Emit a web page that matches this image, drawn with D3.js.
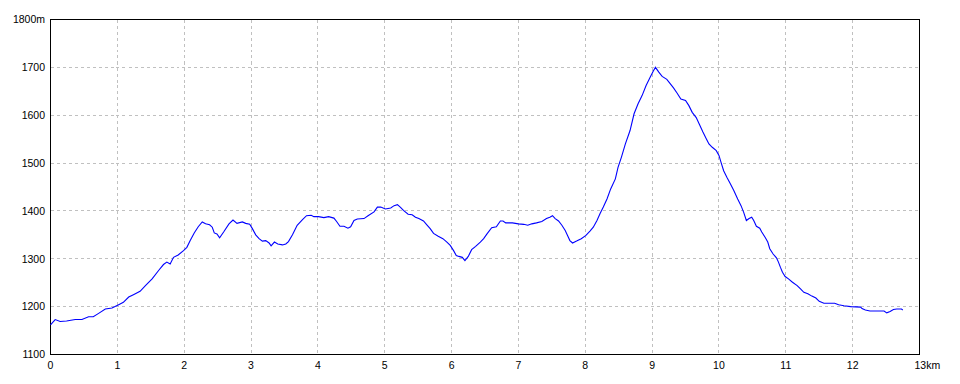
<!DOCTYPE html>
<html>
<head>
<meta charset="utf-8">
<script src="https://cdn.jsdelivr.net/npm/d3@7"></script>
<style>
  html, body { margin: 0; padding: 0; background: #ffffff; }
  svg { display: block; }
  text { font-family: "Liberation Sans", Arial, sans-serif; font-size: 10.5px; fill: #000; }
</style>
</head>
<body>
<svg id="chart" width="960" height="384"></svg>
<script>
// Distance along the route (km)
const distanceKm = [
  0.00, 0.07, 0.145, 0.24, 0.37, 0.47, 0.57, 0.64, 0.72, 0.82, 0.92, 1.02, 1.09, 1.17, 1.24, 1.34,
  1.42, 1.52, 1.62, 1.69, 1.74, 1.79, 1.84, 1.91, 1.99, 2.04, 2.09, 2.15, 2.21, 2.27, 2.32, 2.38,
  2.42, 2.45, 2.49, 2.53, 2.59, 2.67, 2.73, 2.79, 2.87, 2.92, 2.98, 3.02, 3.07, 3.12, 3.17, 3.22,
  3.27, 3.30, 3.35, 3.40, 3.47, 3.52, 3.56, 3.62, 3.69, 3.77, 3.83, 3.90, 3.94, 4.01, 4.09, 4.16,
  4.24, 4.28, 4.33, 4.39, 4.45, 4.49, 4.54, 4.59, 4.69, 4.75, 4.84, 4.89, 4.94, 5.01, 5.09, 5.14,
  5.19, 5.24, 5.28, 5.35, 5.41, 5.46, 5.51, 5.58, 5.63, 5.68, 5.73, 5.80, 5.87, 5.93, 5.98, 6.03,
  6.07, 6.11, 6.16, 6.20, 6.25, 6.30, 6.36, 6.43, 6.48, 6.53, 6.60, 6.67, 6.73, 6.77, 6.81, 6.91,
  7.00, 7.08, 7.14, 7.20, 7.27, 7.35, 7.42, 7.47, 7.51, 7.55, 7.60, 7.65, 7.70, 7.74, 7.77, 7.81,
  7.87, 7.94, 8.01, 8.07, 8.12, 8.175, 8.22, 8.27, 8.325, 8.38, 8.45, 8.49, 8.54, 8.60, 8.67, 8.73,
  8.79, 8.85, 8.91, 8.98, 9.02, 9.05, 9.10, 9.15, 9.22, 9.27, 9.32, 9.37, 9.43, 9.50, 9.55, 9.60,
  9.66, 9.71, 9.76, 9.81, 9.85, 9.90, 9.96, 10.00, 10.03, 10.07, 10.12, 10.17, 10.22, 10.28, 10.33, 10.37,
  10.41, 10.45, 10.49, 10.52, 10.56, 10.61, 10.64, 10.69, 10.73, 10.76, 10.81, 10.86, 10.89, 10.92, 10.95, 10.99,
  11.04, 11.10, 11.17, 11.22, 11.27, 11.33, 11.39, 11.45, 11.50, 11.57, 11.73, 11.79, 11.87, 11.97, 12.12, 12.14,
  12.19, 12.26, 12.47, 12.51, 12.56, 12.61, 12.66, 12.73, 12.75
];
// Elevation (m)
const elevationM = [
  1162, 1173, 1169, 1170, 1173, 1173, 1179, 1179, 1186, 1195, 1197, 1204, 1209, 1220, 1225, 1232,
  1244, 1258, 1276, 1288, 1293, 1289, 1303, 1308, 1317, 1324, 1338, 1354, 1367, 1377, 1373, 1371,
  1366, 1354, 1352, 1344, 1356, 1373, 1381, 1374, 1377, 1374, 1372, 1363, 1350, 1342, 1337, 1338,
  1333, 1327, 1335, 1331, 1329, 1331, 1336, 1350, 1370, 1382, 1390, 1391, 1388, 1388, 1386, 1388,
  1385, 1378, 1368, 1368, 1364, 1367, 1380, 1383, 1384, 1390, 1398, 1408, 1408, 1404, 1406, 1411,
  1413, 1407, 1401, 1393, 1392, 1387, 1384, 1379, 1371, 1363, 1353, 1347, 1342, 1335, 1328, 1317,
  1307, 1305, 1303, 1296, 1305, 1319, 1326, 1335, 1342, 1352, 1365, 1367, 1379, 1379, 1375, 1375,
  1373, 1372, 1370, 1373, 1375, 1378, 1384, 1387, 1390, 1384, 1379, 1370, 1359, 1347, 1338, 1333,
  1337, 1342, 1349, 1358, 1366, 1380, 1394, 1408, 1425, 1446, 1467, 1491, 1512, 1540, 1568, 1603,
  1624, 1641, 1662, 1682, 1693, 1700, 1690, 1681, 1675, 1666, 1657, 1647, 1634, 1631, 1620, 1606,
  1595, 1580, 1565, 1551, 1540, 1533, 1526, 1516, 1502, 1484, 1470, 1457, 1443, 1425, 1411, 1397,
  1380, 1384, 1387, 1380, 1368, 1364, 1356, 1345, 1335, 1321, 1310, 1302, 1293, 1282, 1272, 1263,
  1258, 1251, 1244, 1237, 1230, 1227, 1222, 1218, 1211, 1207, 1207, 1204, 1202, 1200, 1199, 1196,
  1193, 1191, 1191, 1187, 1190, 1194, 1195, 1195, 1193
];
// Axis ticks
const xTicks = [0,1,2,3,4,5,6,7,8,9,10,11,12,13];
const xTickLabels = ["0","1","2","3","4","5","6","7","8","9","10","11","12","13km"];
const yTicks = [1100,1200,1300,1400,1500,1600,1700,1800];
const yTickLabels = ["1100","1200","1300","1400","1500","1600","1700","1800m"];

const svg = d3.select("#chart");
const x = d3.scaleLinear().domain([0, 13]).range([50.5, 919.5]);
const y = d3.scaleLinear().domain([1100, 1800]).range([354.5, 19.5]);

// grid
const grid = svg.append("g").attr("stroke", "#c0c0c0").attr("stroke-dasharray", "3,3")
  .attr("shape-rendering", "crispEdges");
grid.selectAll("line.v").data(xTicks.slice(1, -1)).join("line")
  .attr("x1", d => Math.round(x(d) - 0.5) + 0.5).attr("x2", d => Math.round(x(d) - 0.5) + 0.5)
  .attr("y1", y(1800)).attr("y2", y(1100));
grid.selectAll("line.h").data(yTicks.slice(1, -1)).join("line")
  .attr("y1", d => Math.round(y(d) - 0.5) + 0.5).attr("y2", d => Math.round(y(d) - 0.5) + 0.5)
  .attr("x1", x(0)).attr("x2", x(13));

// frame
svg.append("rect")
  .attr("x", x(0)).attr("y", y(1800))
  .attr("width", x(13) - x(0)).attr("height", y(1100) - y(1800))
  .attr("fill", "none").attr("stroke", "#000").attr("stroke-width", 1)
  .attr("shape-rendering", "crispEdges");

// profile line
const pts = distanceKm.map((d, i) => [d, elevationM[i]]);
svg.append("path")
  .datum(pts)
  .attr("fill", "none")
  .attr("stroke", "#0000ff")
  .attr("stroke-width", 1.1)
  .attr("d", d3.line().x(d => x(d[0])).y(d => y(d[1])));

// y labels
svg.append("g").selectAll("text").data(yTicks).join("text")
  .attr("x", 45).attr("y", d => y(d))
  .attr("dy", "0.36em")
  .attr("text-anchor", "end")
  .text((d, i) => yTickLabels[i]);

// x labels
svg.append("g").selectAll("text").data(xTicks).join("text")
  .attr("x", (d, i) => i === xTicks.length - 1 ? x(d) - 5 : x(d))
  .attr("y", 368.5)
  .attr("text-anchor", (d, i) => i === xTicks.length - 1 ? "start" : "middle")
  .text((d, i) => xTickLabels[i]);
</script>
</body>
</html>
